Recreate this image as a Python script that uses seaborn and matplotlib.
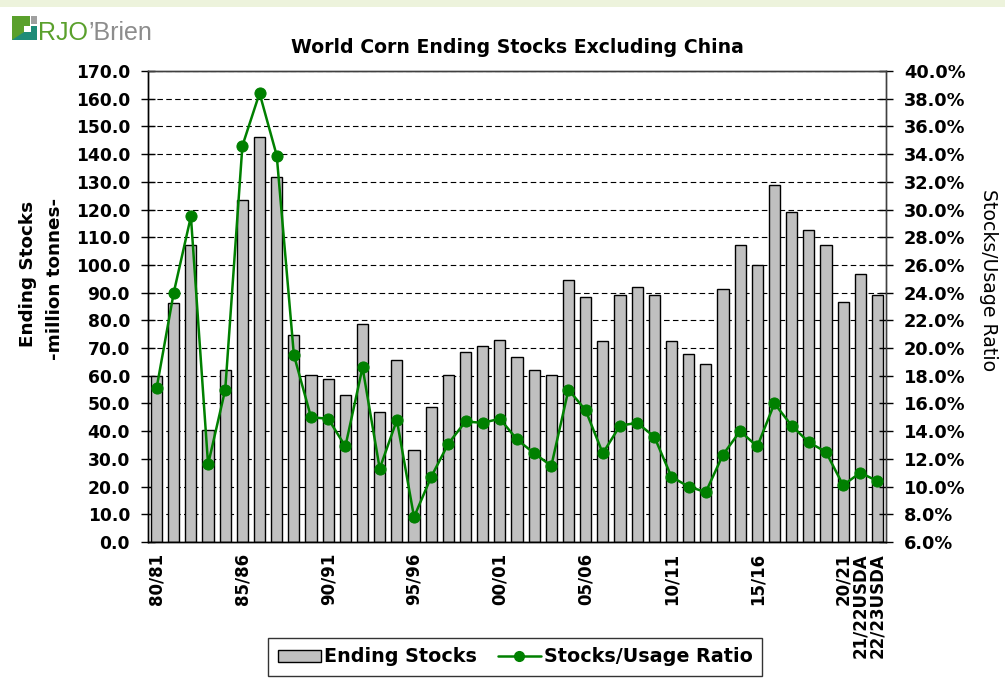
#!/usr/bin/env python3
"""World corn ending stocks excluding China, with stocks/usage ratio."""

import matplotlib
matplotlib.use("Agg")
import matplotlib.pyplot as plt
import matplotlib.patches as mpatches
from matplotlib.lines import Line2D
from matplotlib.ticker import FixedLocator, FuncFormatter, MultipleLocator
import numpy as np
import pandas as pd
import seaborn as sns

seasons = [
    "80/81", "81/82", "82/83", "83/84", "84/85", "85/86", "86/87", "87/88",
    "88/89", "89/90", "90/91", "91/92", "92/93", "93/94", "94/95", "95/96",
    "96/97", "97/98", "98/99", "99/00", "00/01", "01/02", "02/03", "03/04",
    "04/05", "05/06", "06/07", "07/08", "08/09", "09/10", "10/11", "11/12",
    "12/13", "13/14", "14/15", "15/16", "16/17", "17/18", "18/19", "19/20",
    "20/21", "21/22USDA", "22/23USDA",
]

# million tonnes
ending_stocks = [
    59.8, 86.3, 107.2, 40.6, 62.2, 123.4, 146.3, 131.9, 74.8, 60.3,
    58.9, 53.1, 78.6, 46.8, 65.6, 33.2, 48.8, 60.3, 68.5, 70.9,
    72.8, 66.6, 62.2, 60.3, 94.5, 88.3, 72.4, 89.2, 92.1, 89.2,
    72.4, 68.0, 64.2, 91.2, 107.2, 100.1, 128.8, 119.2, 112.5, 107.2,
    86.8, 96.9, 89.2,
]

# percent
stocks_usage = [
    17.1, 24.0, 29.5, 11.6, 17.0, 34.6, 38.4, 33.9, 19.5, 15.0,
    14.9, 12.9, 18.6, 11.3, 14.8, 7.8, 10.7, 13.1, 14.7, 14.6,
    14.9, 13.4, 12.4, 11.5, 17.0, 15.5, 12.4, 14.4, 14.6, 13.6,
    10.7, 10.0, 9.6, 12.3, 14.0, 12.9, 16.0, 14.4, 13.2, 12.5,
    10.1, 11.0, 10.4,
]

shown_labels = ["80/81", "85/86", "90/91", "95/96", "00/01", "05/06",
                "10/11", "15/16", "20/21", "21/22USDA", "22/23USDA"]

BAR_COLOR = "#c0c0c0"
LINE_COLOR = "#008000"
SPINE_COLOR = "#404040"

sns.set_style("white")
plt.rcParams.update({
    "font.family": ["DejaVu Sans"],
    "text.color": "black",
    "axes.labelcolor": "black",
    "xtick.color": "black",
    "ytick.color": "black",
})

W, H = 1005, 689


def px(x):
    return x / W


def py(y):
    return 1 - y / H


def main() -> None:
    df = pd.DataFrame({
        "season": seasons,
        "stocks": ending_stocks,
        "ratio": stocks_usage,
        "pos": np.arange(len(seasons)),
    })

    fig = plt.figure(figsize=(W / 100, H / 100), dpi=100)
    ax = fig.add_axes([px(148), py(542), 738 / W, 471 / H])

    sns.barplot(data=df, x="season", y="stocks", ax=ax, color=BAR_COLOR,
                saturation=1, width=0.65, edgecolor="black", linewidth=1)
    ax.set_xlim(-0.5, len(seasons) - 0.5)
    ax.set_ylim(0, 170)
    ax.yaxis.set_major_locator(MultipleLocator(10))
    ax.yaxis.set_major_formatter(FuncFormatter(lambda v, p: f"{v:.1f}"))
    ax.set_axisbelow(True)
    ax.yaxis.grid(True, color="black", linewidth=0.8, linestyle=(0, (5, 3)))
    ax.set_xlabel("")
    ax.set_ylabel("")

    # x: labels only on some seasons, tick marks at category boundaries
    label_pos = [seasons.index(s) for s in shown_labels]
    ax.xaxis.set_major_locator(FixedLocator(label_pos))
    ax.set_xticklabels(shown_labels, rotation=90, fontsize=12,
                       fontweight="bold", va="top", ha="center",
                       linespacing=0.9)
    ax.xaxis.set_minor_locator(FixedLocator(np.arange(len(seasons) + 1) - 0.5))
    ax.tick_params(axis="x", which="major", length=0, pad=8)
    ax.tick_params(axis="x", which="minor", direction="inout", length=8,
                   width=1, color="black")
    ax.tick_params(axis="y", direction="inout", length=10, width=1,
                   color="black", labelsize=12.3, pad=8)
    for lab in ax.get_yticklabels():
        lab.set_fontweight("bold")

    ax2 = ax.twinx()
    sns.lineplot(data=df, x="pos", y="ratio", ax=ax2, color=LINE_COLOR,
                 linewidth=1.8, marker="o", markersize=8,
                 markeredgecolor=LINE_COLOR, markerfacecolor=LINE_COLOR)
    ax2.set_xlim(-0.5, len(seasons) - 0.5)
    ax2.set_ylim(6, 40)
    ax2.yaxis.set_major_locator(MultipleLocator(2))
    ax2.yaxis.set_major_formatter(FuncFormatter(lambda v, p: f"{v:.1f}%"))
    ax2.tick_params(axis="y", direction="inout", length=10, width=1,
                    color="black", labelsize=12.8, pad=8)
    for lab in ax2.get_yticklabels():
        lab.set_fontweight("bold")
    ax2.set_xlabel("")
    ax2.set_ylabel("")

    for a in (ax, ax2):
        for side, sp in a.spines.items():
            sp.set_visible(True)
            sp.set_linewidth(1)
            sp.set_color(SPINE_COLOR if side in ("top", "right") else "black")

    # titles and axis captions
    fig.text(px(517), py(53), "World Corn Ending Stocks Excluding China",
             ha="center", va="baseline", fontsize=13.6, fontweight="bold")
    fig.text(px(28), py(274), "Ending Stocks", rotation=90,
             ha="center", va="center", fontsize=13.2, fontweight="bold")
    fig.text(px(55), py(279), "-million tonnes-", rotation=90,
             ha="center", va="center", fontsize=13.2, fontweight="bold")
    fig.text(px(988), py(280), "Stocks/Usage Ratio", rotation=-90,
             ha="center", va="center", fontsize=13.6)

    # legend
    handles = [
        mpatches.Patch(facecolor=BAR_COLOR, edgecolor="black", linewidth=1,
                       label="Ending Stocks"),
        Line2D([], [], color=LINE_COLOR, linewidth=1.8, marker="o",
               markersize=7, label="Stocks/Usage Ratio"),
    ]
    fig.legend(handles=handles, loc="center", ncol=2,
               bbox_to_anchor=(px(515), py(657)),
               prop={"size": 13.8, "weight": "bold"},
               frameon=True, fancybox=False, edgecolor="black",
               handlelength=2.25, handleheight=0.6, handletextpad=0.15,
               columnspacing=1.1, borderpad=0.5, borderaxespad=0)

    # top strip and logo
    fig.patches.append(mpatches.Rectangle((0, py(7)), 1, 7 / H,
                                          transform=fig.transFigure,
                                          facecolor="#edf3dc", edgecolor="none"))
    fig.patches.append(mpatches.Rectangle((px(12), py(40)), px(18), 24 / H,
                                          transform=fig.transFigure,
                                          facecolor="#5aa02c", edgecolor="none"))
    fig.patches.append(mpatches.Rectangle((px(31), py(24)), px(6), 8 / H,
                                          transform=fig.transFigure,
                                          facecolor="#a0a0a0", edgecolor="none"))
    fig.patches.append(mpatches.Polygon(
        [(px(12), py(40)), (px(37), py(40)), (px(37), py(26)),
         (px(31), py(26)), (px(31), py(32)), (px(24), py(32))],
        closed=True, transform=fig.transFigure,
        facecolor="#1e8c78", edgecolor="none"))
    fig.patches.append(mpatches.Rectangle((px(24), py(32)), px(6), 6 / H,
                                          transform=fig.transFigure,
                                          facecolor="white", edgecolor="none"))
    t1 = fig.text(px(38), py(40), "RJO", color="#5aa02c", fontsize=18,
                  family=["Liberation Sans"], va="baseline", ha="left")
    fig.canvas.draw()
    bb = t1.get_window_extent()
    fig.text(bb.x1 / fig.bbox.width, py(40), "\u2019Brien", color="#8c8c8c",
             fontsize=18, family=["Liberation Sans"], va="baseline", ha="left")

    fig.savefig("out.png", dpi=100)
    plt.close(fig)


if __name__ == "__main__":
    main()
